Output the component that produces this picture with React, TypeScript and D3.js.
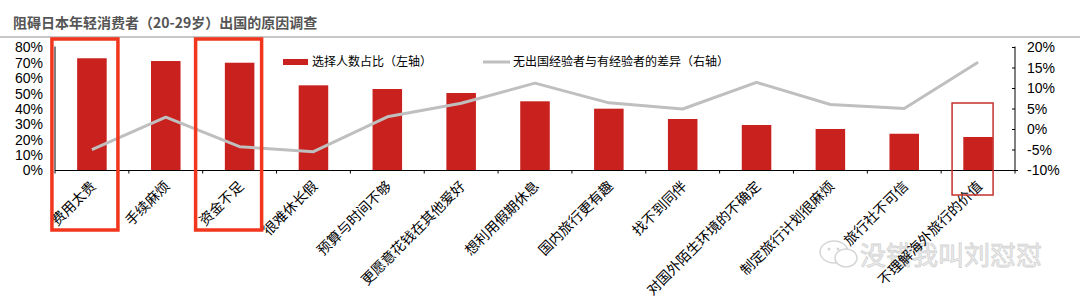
import React from "react";
import * as d3 from "d3";

const title = "阻碍日本年轻消费者（20-29岁）出国的原因调查";
const categories = [
  "费用太贵",
  "手续麻烦",
  "资金不足",
  "很难休长假",
  "预算与时间不够",
  "更愿意花钱在其他爱好",
  "想利用假期休息",
  "国内旅行更有趣",
  "找不到同伴",
  "对国外陌生环境的不确定",
  "制定旅行计划很麻烦",
  "旅行社不可信",
  "不理解海外旅行的价值",
];
const shareValues = [73.0, 71.2, 70.1, 55.4, 53.0, 50.4, 45.0, 40.2, 33.5, 29.6, 27.0, 23.9, 21.8];
const diffValues = [-4.9, 3.0, -4.2, -5.4, 3.1, 6.4, 11.3, 6.5, 5.0, 11.5, 6.1, 5.1, 16.4];
const leftTicks = [0, 10, 20, 30, 40, 50, 60, 70, 80];
const rightTicks = [-10, -5, 0, 5, 10, 15, 20];
const legendBar = "选择人数占比（左轴）";
const legendLine = "无出国经验者与有经验者的差异（右轴）";
const watermark = "没错我叫刘怼怼";
const highlighted = [0, 2];
const thinHighlighted = [12];

const W = 1080;
const H = 303;
const plotLeft = 55;
const plotRight = 1015;
const plotTop = 47.5;
const plotBottom = 170.5;
const barRed = "#c9211e";
const boxRed = "#f2361e";
const cjk = "'Noto Sans CJK SC', sans-serif";
const latin = "'Liberation Sans', Arial, sans-serif";

export default function App() {
  const x = d3.scaleBand<string>().domain(categories).range([plotLeft, plotRight]).padding(0);
  const yL = d3.scaleLinear().domain([0, 80]).range([plotBottom, plotTop]);
  const yR = d3.scaleLinear().domain([-10, 20]).range([plotBottom, plotTop]);
  const bw = x.bandwidth();
  const barW = bw * 0.4;
  const cx = (i: number) => (x(categories[i]) as number) + bw / 2;

  const line = d3
    .line<number>()
    .x((_, i) => cx(i))
    .y((d) => yR(d));

  const boundaries = d3.range(categories.length + 1).map((i) => plotLeft + i * bw);

  return (
    <div style={{ position: "fixed", left: 0, top: 0 }}>
      <svg width={W} height={H} style={{ display: "block", background: "#fff" }}>
        {/* title */}
        <text x={13} y={28} fontFamily={cjk} fontSize={14} fontWeight={700} fill="#555">
          {title}
        </text>
        <line x1={0} x2={W} y1={37} y2={37} stroke="#b5b5b5" strokeWidth={1.5} />

        {/* watermark */}
        <g opacity={0.9}>
          <ellipse cx={834} cy={252} rx={14} ry={11} fill="none" stroke="#d2d2d2" strokeWidth={1.5} />
          <ellipse cx={846} cy={258} rx={11} ry={9} fill="#fff" stroke="#d2d2d2" strokeWidth={1.5} />
          <circle cx={829} cy={249} r={1.5} fill="#d2d2d2" />
          <circle cx={838} cy={249} r={1.5} fill="#d2d2d2" />
          <text x={860} y={265} fontFamily={cjk} fontSize={26} fill="#ececec" stroke="#cfcfcf" strokeWidth={0.8}>
            {watermark}
          </text>
        </g>

        {/* bars */}
        {shareValues.map((v, i) => (
          <rect
            key={"b" + i}
            x={cx(i) - barW / 2}
            y={yL(v)}
            width={barW}
            height={plotBottom - yL(v)}
            fill={barRed}
          />
        ))}

        {/* line */}
        <path d={line(diffValues) || ""} fill="none" stroke="#bfbfbf" strokeWidth={3} strokeLinejoin="round" />

        {/* left axis */}
        <line x1={plotLeft} x2={plotLeft} y1={plotTop - 1} y2={plotBottom} stroke="#000" strokeWidth={1} />
        {leftTicks.map((t) => (
          <text
            key={"l" + t}
            x={43}
            y={yL(t)}
            dy="0.35em"
            textAnchor="end"
            fontFamily={latin}
            fontSize={14}
            fill="#000"
          >
            {t + "%"}
          </text>
        ))}

        {/* right axis */}
        <line x1={plotRight} x2={plotRight} y1={plotTop - 1} y2={plotBottom} stroke="#000" strokeWidth={1} />
        {rightTicks.map((t) => (
          <g key={"r" + t}>
            <line x1={plotRight - 3} x2={plotRight} y1={yR(t)} y2={yR(t)} stroke="#000" />
            <text x={1027} y={yR(t)} dy="0.35em" fontFamily={latin} fontSize={14} fill="#000">
              {t + "%"}
            </text>
          </g>
        ))}
        <line x1={plotRight} x2={plotRight + 3} y1={plotBottom} y2={plotBottom} stroke="#000" />

        {/* x axis */}
        <line x1={plotLeft} x2={plotRight} y1={plotBottom} y2={plotBottom} stroke="#000" strokeWidth={1} />
        {boundaries.map((b, i) => (
          <line key={"t" + i} x1={b} x2={b} y1={plotBottom} y2={plotBottom + 3} stroke="#000" />
        ))}
        {categories.map((c, i) => (
          <text
            key={"c" + i}
            transform={`translate(${cx(i) + 5},${187}) rotate(-45)`}
            textAnchor="end"
            fontFamily={cjk}
            fontSize={14}
            fill="#000"
          >
            {c}
          </text>
        ))}

        {/* legend */}
        <rect x={283} y={59} width={25} height={6} fill={barRed} />
        <text x={312} y={62} dy="0.35em" fontFamily={cjk} fontSize={12} fill="#000">
          {legendBar}
        </text>
        <line x1={483} x2={510} y1={62} y2={62} stroke="#bfbfbf" strokeWidth={3} />
        <text x={513} y={62} dy="0.35em" fontFamily={cjk} fontSize={12} fill="#000">
          {legendLine}
        </text>

        {/* highlight boxes */}
        {highlighted.map((i) => (
          <rect
            key={"h" + i}
            x={cx(i) - 40 - (i === 2 ? 4 : 0)}
            y={39}
            width={66 + (i === 2 ? 0 : 0)}
            height={191}
            fill="none"
            stroke={boxRed}
            strokeWidth={3.5}
          />
        ))}
        {thinHighlighted.map((i) => (
          <rect
            key={"th" + i}
            x={cx(i) - 26}
            y={103}
            width={41}
            height={92}
            fill="none"
            stroke="#c4302b"
            strokeWidth={1.5}
          />
        ))}
      </svg>
    </div>
  );
}
